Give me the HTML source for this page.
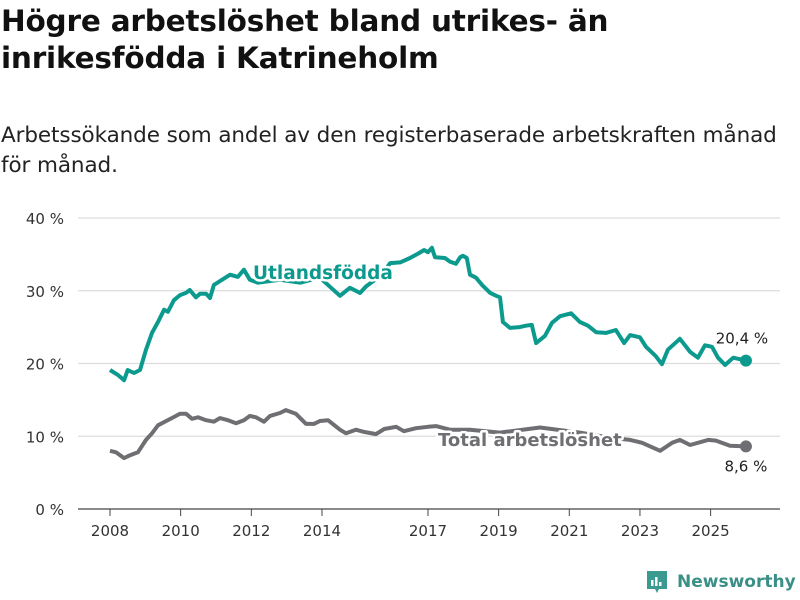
<!DOCTYPE html>
<html><head><meta charset="utf-8">
<style>
body{margin:0;width:800px;height:600px;background:#fff;font-family:"DejaVu Sans","Liberation Sans",sans-serif;color:#111;overflow:hidden;position:relative}
#title{position:absolute;left:1px;top:3px;font-size:29.5px;font-weight:bold;line-height:37px;margin:0;letter-spacing:-0.2px;white-space:nowrap}
#sub{position:absolute;left:1px;top:121px;font-size:21.5px;line-height:30px;color:#222;letter-spacing:-0.1px;white-space:nowrap}
#chart{position:absolute;left:0;top:0}
#logo{position:absolute;left:645px;top:569px;display:flex;align-items:center;color:#3a8f87;font-size:17px;font-weight:bold}
</style></head><body>
<h1 id="title">Högre arbetslöshet bland utrikes- än<br>inrikesfödda i Katrineholm</h1>
<div id="sub">Arbetssökande som andel av den registerbaserade arbetskraften månad<br>för månad.</div>
<svg id="chart" width="800" height="600" style="font-family:'DejaVu Sans',sans-serif"></svg>
<div id="logo"><svg width="24" height="26" viewBox="0 0 24 26" style="margin-right:8px"><path d="M2 2h20v18h-8l-2 4-2-4H2z" fill="#3a9a90"/><rect x="6" y="11" width="2.5" height="6" fill="#fff"/><rect x="10" y="8" width="2.5" height="9" fill="#fff"/><rect x="14" y="13" width="2.5" height="4" fill="#fff"/></svg>Newsworthy</div>
<script>
const utlYears=[2008.0,2008.23,2008.4,2008.5,2008.68,2008.85,2009.02,2009.19,2009.36,2009.53,2009.64,2009.81,2009.98,2010.15,2010.26,2010.43,2010.55,2010.72,2010.83,2010.94,2011.17,2011.4,2011.62,2011.79,2011.96,2012.19,2012.81,2013.38,2013.94,2014.51,2014.79,2015.08,2015.25,2015.64,2015.93,2016.21,2016.49,2016.72,2016.89,2017.0,2017.11,2017.2,2017.48,2017.62,2017.79,2017.91,2017.99,2018.1,2018.19,2018.36,2018.53,2018.76,2018.93,2019.04,2019.12,2019.32,2019.6,2019.77,2019.94,2020.06,2020.31,2020.51,2020.74,2021.05,2021.3,2021.53,2021.76,2022.04,2022.32,2022.55,2022.72,2023.0,2023.17,2023.45,2023.62,2023.79,2024.13,2024.42,2024.64,2024.84,2025.04,2025.21,2025.41,2025.64,2026.0];
const utlValues=[19.1,18.4,17.7,19.1,18.7,19.1,21.9,24.2,25.7,27.4,27.1,28.7,29.4,29.7,30.1,29.1,29.6,29.6,29.0,30.8,31.5,32.2,31.9,32.9,31.5,31.1,31.5,31.1,31.8,29.3,30.4,29.7,30.6,32.0,33.8,33.9,34.5,35.1,35.6,35.3,35.9,34.6,34.5,34.0,33.7,34.6,34.8,34.5,32.2,31.8,30.8,29.7,29.3,29.1,25.7,24.9,25.0,25.2,25.3,22.8,23.8,25.6,26.5,26.9,25.7,25.2,24.3,24.2,24.6,22.8,23.9,23.6,22.3,21.0,19.9,21.9,23.4,21.6,20.8,22.5,22.3,20.8,19.8,20.8,20.4];
const totYears=[2008.0,2008.17,2008.4,2008.57,2008.79,2009.02,2009.19,2009.36,2009.59,2009.75,2009.98,2010.15,2010.32,2010.49,2010.72,2010.94,2011.11,2011.34,2011.57,2011.79,2011.96,2012.13,2012.36,2012.53,2012.81,2012.98,2013.26,2013.55,2013.77,2013.94,2014.17,2014.51,2014.68,2014.96,2015.19,2015.53,2015.76,2016.1,2016.32,2016.66,2017.0,2017.23,2017.62,2018.19,2019.04,2020.17,2021.3,2022.15,2022.72,2023.06,2023.57,2023.91,2024.13,2024.42,2024.93,2025.15,2025.55,2026.0];
const totValues=[8.0,7.8,7.0,7.4,7.8,9.5,10.4,11.5,12.1,12.5,13.1,13.1,12.4,12.6,12.2,12.0,12.5,12.2,11.8,12.2,12.8,12.6,12.0,12.8,13.2,13.6,13.1,11.7,11.7,12.1,12.2,10.9,10.4,10.9,10.6,10.3,11.0,11.3,10.7,11.1,11.3,11.4,10.9,10.9,10.5,11.2,10.5,9.8,9.5,9.1,8.0,9.1,9.5,8.8,9.5,9.4,8.7,8.6];
const yTicks=[0,10,20,30,40];
const yTickLabels=["0 %","10 %","20 %","30 %","40 %"];
const xTicks=[2008,2010,2012,2014,2017,2019,2021,2023,2025];
const endLabels=["20,4 %","8,6 %"];

const NS="http://www.w3.org/2000/svg";
const svg=document.getElementById('chart');
const X=v=>110+(v-2008)*35.33;
const Y=v=>509-v*7.275;
function mk(t,a,p){const e=document.createElementNS(NS,t);for(const k in a)e.setAttribute(k,a[k]);(p||svg).appendChild(e);return e;}
yTicks.forEach((t,i)=>{
  const l=mk('line',{x1:78,x2:780,y1:Y(t),y2:Y(t),stroke:t===0?'#444':'#ddd','stroke-width':1.2});
  
  
  const tx=mk('text',{x:64,y:Y(t)+6,'text-anchor':'end','font-size':15,fill:'#333'});
  tx.textContent=yTickLabels[i];
  
  
});
xTicks.forEach(t=>{
  const l=mk('line',{x1:X(t),x2:X(t),y1:509,y2:516,stroke:'#444','stroke-width':1});
  
  
  const tx=mk('text',{x:X(t),y:536,'text-anchor':'middle','font-size':15,fill:'#333'});
  tx.textContent=t;
  
  
});
function series(xs,vs,color,name){
  const d=xs.map((x,i)=>(i?'L':'M')+X(x).toFixed(1)+','+Y(vs[i]).toFixed(1)).join('');
  const p=mk('path',{d:d,fill:'none',stroke:color,'stroke-width':4,'stroke-linejoin':'round'});
  
  
  const n=xs.length-1;
  const c=mk('circle',{cx:X(xs[n]),cy:Y(vs[n]),r:6,fill:color});
  
  
}
series(utlYears,utlValues,'#0b9a8d','utlandsfodda');
series(totYears,totValues,'#6f6e73','total');
function label(txt,x,y,color,name,anchor,size,bold){
  const t=mk('text',{x:x,y:y,'text-anchor':anchor,'font-size':size,'font-weight':bold?'bold':'normal',fill:color,stroke:bold?'#fff':'none','stroke-width':bold?5:0,'paint-order':'stroke','stroke-linejoin':'round'});
  t.textContent=txt;
  
  
}
label('Utlandsfödda',253,279,'#0b9a8d','series-label-utlandsfodda','start',18.5,true);
label('Total arbetslöshet',438,446,'#6f6e73','series-label-total','start',18,true);
const n1=utlYears.length-1,n2=totYears.length-1;
label(endLabels[0],X(utlYears[n1])-4,Y(utlValues[n1])-17,'#222','end-label-utlandsfodda','middle',15,false);
label(endLabels[1],X(totYears[n2]),Y(totValues[n2])+25,'#222','end-label-total','middle',15,false);
</script>
</body></html>
